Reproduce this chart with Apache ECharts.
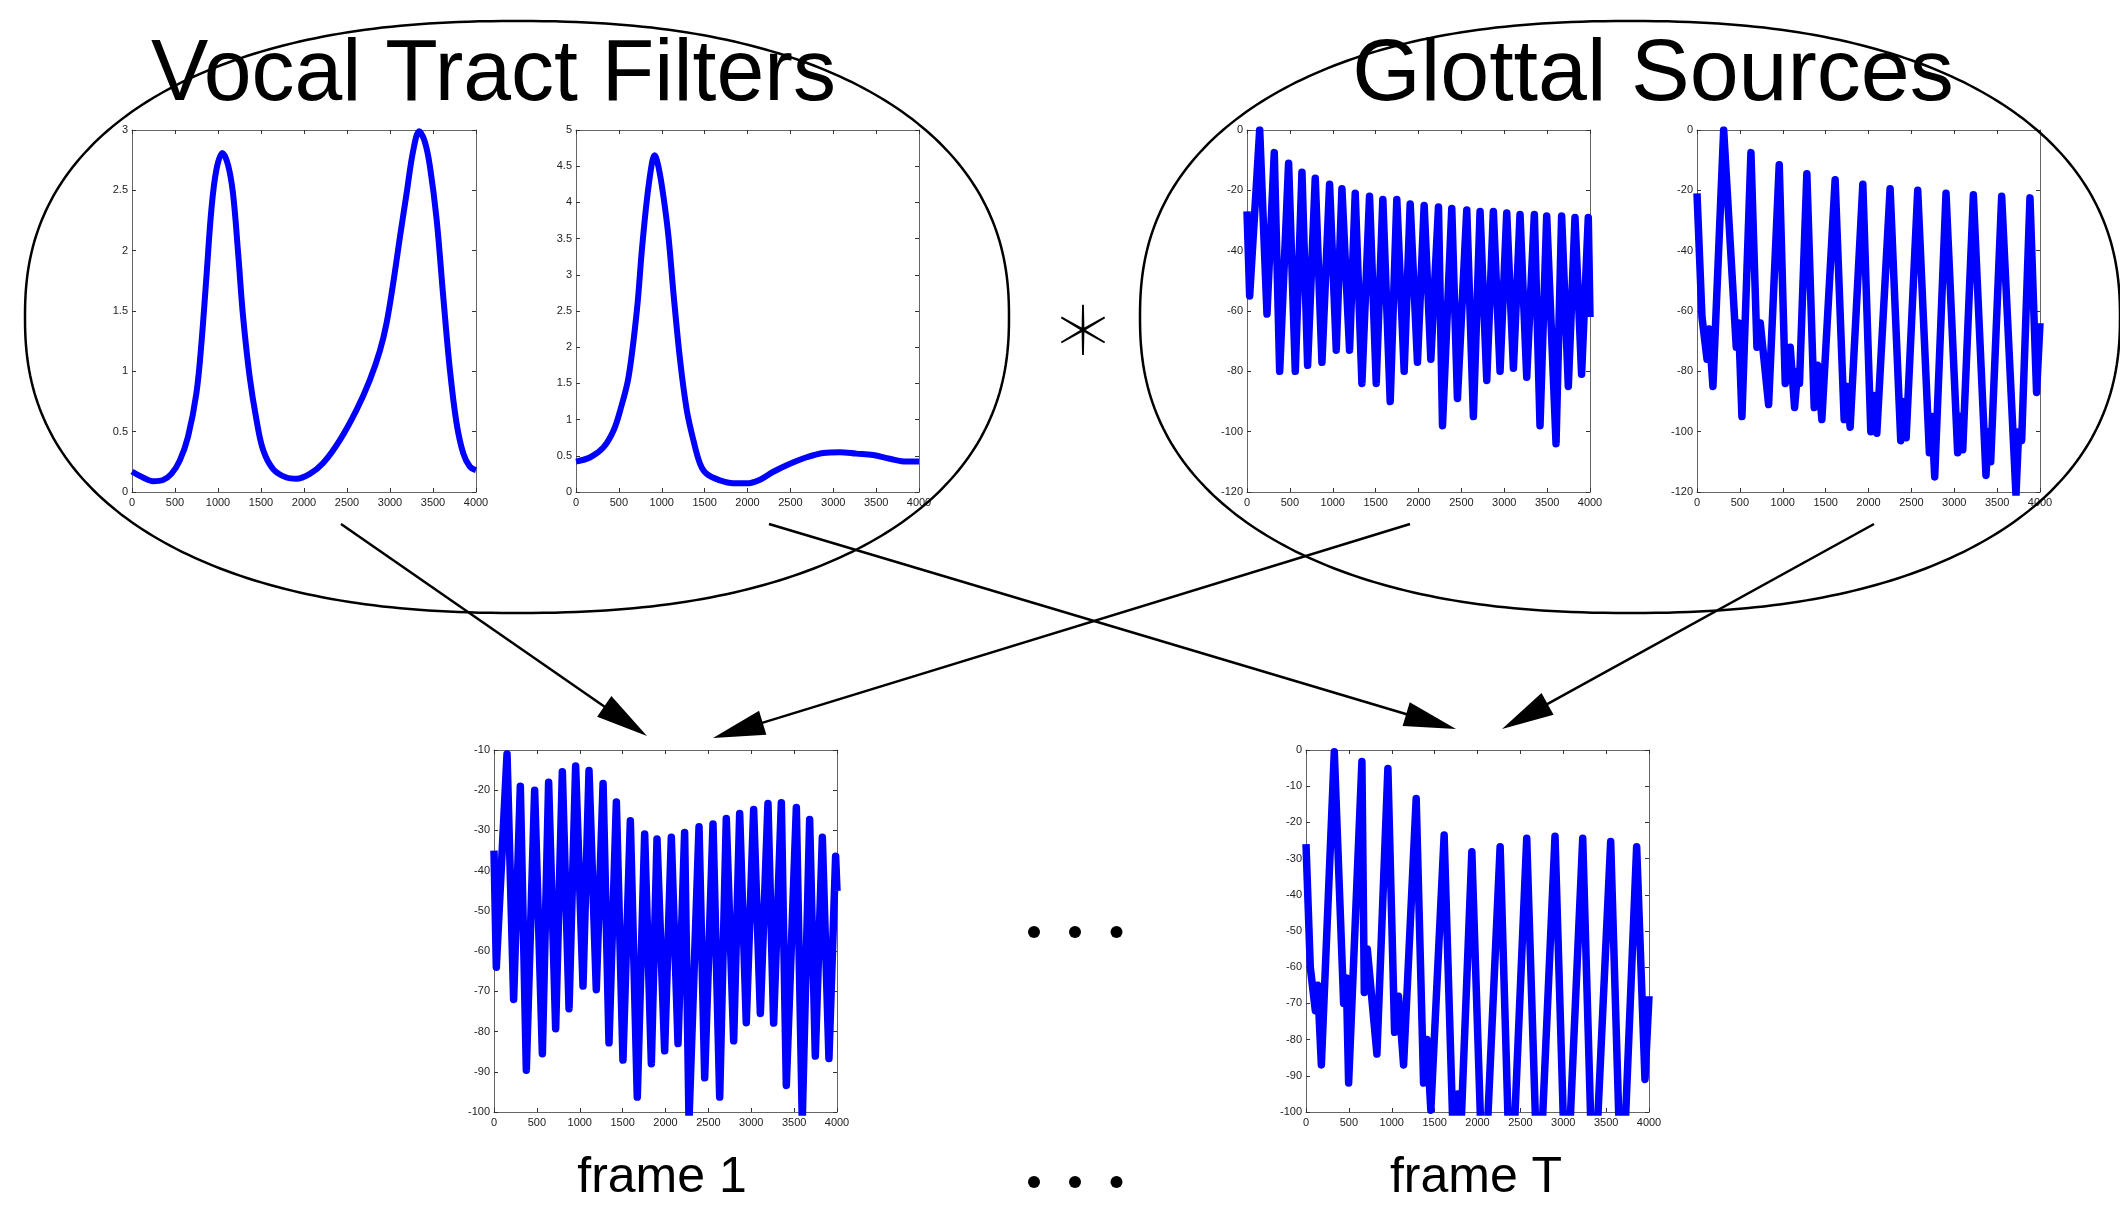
<!DOCTYPE html>
<html><head><meta charset="utf-8">
<script src="https://cdn.jsdelivr.net/npm/echarts@6/dist/echarts.min.js"></script>
<style>html,body{margin:0;padding:0;background:#fff;} #c{width:2120px;height:1206px;}</style>
</head><body><div id="c"></div>
<script>
// ---------- data ----------
const freqTicks = [0, 500, 1000, 1500, 2000, 2500, 3000, 3500, 4000];

// Vocal tract filter 1 (linear gain)
const vtf1Freq = [0,128,244,361,458,555,652,749,807,865,923,981,1051,1117,1175,1234,1292,1369,1447,1524,1641,1796,1912,2067,2223,2417,2611,2766,2882,2960,3037,3115,3192,3270,3340,3406,3464,3542,3619,3697,3774,3852,3929,4000];
const vtf1Gain = [0.17,0.12,0.09,0.10,0.15,0.26,0.46,0.82,1.23,1.78,2.34,2.67,2.81,2.71,2.47,1.98,1.45,0.95,0.60,0.35,0.19,0.12,0.11,0.15,0.24,0.43,0.68,0.93,1.17,1.40,1.73,2.11,2.47,2.83,2.99,2.90,2.70,2.26,1.62,1.01,0.57,0.32,0.21,0.18];

// Vocal tract filter 2
const vtf2Freq = [0,167,322,438,516,613,710,768,826,885,916,962,1020,1079,1137,1214,1292,1370,1447,1525,1680,1835,1990,2146,2301,2495,2689,2883,3077,3271,3465,3659,3853,4000];
const vtf2Gain = [0.42,0.48,0.62,0.85,1.13,1.59,2.51,3.34,4.03,4.54,4.65,4.49,4.08,3.52,2.74,1.82,1.13,0.71,0.39,0.25,0.16,0.12,0.12,0.17,0.28,0.39,0.48,0.54,0.55,0.53,0.51,0.46,0.42,0.42];

// Glottal source 1 (dB)
const gs1Freq = [0,31,148,233,318,381,485,563,641,707,796,874,963,1041,1107,1196,1262,1340,1429,1507,1584,1670,1747,1833,1903,1988,2066,2144,2233,2280,2388,2454,2563,2640,2718,2796,2873,2951,3029,3107,3184,3262,3351,3417,3495,3604,3669,3747,3825,3902,3980,4000];
const gs1Level = [-27,-55,0,-61,-7.5,-80,-11,-80,-14,-78,-16,-77,-18,-73,-19.5,-73,-21,-84,-22,-84,-23,-90,-23,-80,-24.5,-77,-25,-76,-25.5,-98,-26,-89,-26.5,-95,-27,-83,-27,-80,-27.5,-79,-28,-82,-28,-98,-28.5,-104,-28.5,-85,-29,-81,-29,-62];

// Glottal source 2 (dB)
const gs2Freq = [0,58,117,140,186,311,458,485,524,629,699,738,835,959,1029,1087,1138,1173,1195,1281,1367,1406,1456,1611,1716,1747,1786,1934,2027,2058,2097,2252,2376,2399,2439,2574,2710,2738,2772,2904,3040,3068,3099,3223,3370,3398,3425,3553,3720,3751,3786,3883,3960,4000];
const gs2Level = [-21,-62,-76,-66,-85,0,-72,-64,-95,-7.5,-72,-64,-91,-11.5,-84,-72,-92,-80,-84,-14.5,-92,-78,-96,-16.5,-96,-85,-98.5,-18,-100,-88,-100.5,-19.5,-103,-90,-102,-20,-107,-95,-115,-21,-107,-95,-106,-21.5,-114.5,-100,-110,-22,-121,-100,-103,-22.5,-87,-64];

// Frame 1 (dB)
const f1Freq = [0,27,152,229,307,377,474,564,637,719,797,875,952,1038,1108,1193,1272,1341,1427,1504,1590,1671,1757,1835,1901,1990,2068,2146,2223,2274,2391,2457,2554,2632,2709,2795,2865,2942,3028,3106,3195,3261,3351,3409,3526,3595,3681,3747,3829,3906,3984,4000];
const f1Level = [-35,-64,-11,-72,-19,-89.6,-20,-85.5,-18,-79.3,-15.4,-74.3,-14,-68.7,-15.1,-69.6,-18.3,-82.8,-22.9,-87.1,-27.6,-96.3,-30.9,-88,-32.1,-84.8,-31.7,-83,-30.5,-102,-29.1,-91.5,-28.4,-96.3,-27,-82.3,-25.8,-77.8,-24.8,-75.5,-23.3,-77.9,-23.1,-93.4,-24.3,-102,-27.3,-86.1,-31.7,-86.7,-36.4,-45];

// Frame T (dB)
const fTFreq = [0,50,109,136,179,330,439,470,497,652,680,715,827,955,1033,1079,1138,1285,1371,1410,1456,1611,1720,1767,1798,1934,2070,2264,2388,2574,2710,2904,3033,3227,3351,3553,3681,3856,3953,4000];
const fTLevel = [-26,-60,-72,-65,-87,-0.5,-70,-63,-92,-3.2,-67,-55,-84,-5.1,-78,-68,-87,-13.4,-92,-80,-99.5,-23.5,-110,-95,-110,-28.1,-128,-26.7,-128,-24.4,-128,-23.8,-128,-24.4,-128,-25.3,-128,-26.7,-91,-68];

const titles = ['Vocal Tract Filters', 'Glottal Sources'];
const frameLabels = ['frame 1', 'frame T'];
const operatorSymbol = '\uFF0A';

// ---------- layout ----------
const panels = [
  {left:132, top:130, w:344, h:362, ymin:0,    ymax:3,   yint:0.5, x:vtf1Freq, y:vtf1Gain, smooth:0.35, lw:6},
  {left:576, top:130, w:343, h:362, ymin:0,    ymax:5,   yint:0.5, x:vtf2Freq, y:vtf2Gain, smooth:0.35, lw:6},
  {left:1247,top:130, w:343, h:362, ymin:-120, ymax:0,   yint:20,  x:gs1Freq,  y:gs1Level, smooth:false, lw:7.5},
  {left:1697,top:130, w:343, h:362, ymin:-120, ymax:0,   yint:20,  x:gs2Freq,  y:gs2Level, smooth:false, lw:7.5},
  {left:494, top:750, w:343, h:362, ymin:-100, ymax:-10, yint:10,  x:f1Freq,   y:f1Level,  smooth:false, lw:7.5},
  {left:1306,top:750, w:343, h:362, ymin:-100, ymax:0,   yint:10,  x:fTFreq,   y:fTLevel,  smooth:false, lw:7.5}
];

const labelFont = "'Liberation Sans Narrow','Liberation Sans',Arial,sans-serif";
const frameColor = '#666';
const plainNum = v => String(v);
const grids = [], xAxes = [], yAxes = [], series = [];
panels.forEach((p, i) => {
  grids.push({left:p.left, top:p.top, width:p.w, height:p.h, containLabel:false, show:false});
  const xmin = freqTicks[0], xmax = freqTicks[freqTicks.length-1], xint = freqTicks[1]-freqTicks[0];
  const common = {
    type:'value', gridIndex:i, splitLine:{show:false},
    axisLine:{show:true, onZero:false, lineStyle:{color:frameColor, width:1}},
    axisTick:{show:true, inside:true, length:4, lineStyle:{color:'#333', width:1}}
  };
  xAxes.push(Object.assign({}, common, {position:'bottom', min:xmin, max:xmax, interval:xint,
    axisLabel:{show:true, fontSize:11, color:'#222', margin:5, fontFamily:labelFont, formatter:plainNum}}));
  xAxes.push(Object.assign({}, common, {position:'top', min:xmin, max:xmax, interval:xint, axisLabel:{show:false}}));
  yAxes.push(Object.assign({}, common, {position:'left', min:p.ymin, max:p.ymax, interval:p.yint,
    axisLabel:{show:true, fontSize:11, color:'#222', margin:4, fontFamily:labelFont, formatter:plainNum}}));
  yAxes.push(Object.assign({}, common, {position:'right', min:p.ymin, max:p.ymax, interval:p.yint, axisLabel:{show:false}}));
  series.push({
    type:'line', xAxisIndex:2*i, yAxisIndex:2*i,
    data:p.x.map((v, k) => [v, p.y[k]]),
    showSymbol:false, symbol:'none', smooth:p.smooth, clip:true, silent:true,
    lineStyle:{color:'#0000ff', width:p.lw, join:'round', cap:'butt'},
    z:3
  });
});

// ---------- decorations ----------
function superEllipse(cx, cy, rx, ry, n) {
  const pts = [];
  for (let k = 0; k < 360; k++) {
    const t = k / 360 * Math.PI * 2;
    const c = Math.cos(t), s = Math.sin(t);
    pts.push([cx + rx * Math.sign(c) * Math.pow(Math.abs(c), 2/n),
              cy + ry * Math.sign(s) * Math.pow(Math.abs(s), 2/n)]);
  }
  return {type:'polygon', z:10, silent:true, shape:{points:pts}, style:{fill:null, stroke:'#000', lineWidth:2.5}};
}
function arrow(x1, y1, x2, y2) {
  const L = 52, W = 12.5;
  const dx = x2 - x1, dy = y2 - y1, len = Math.hypot(dx, dy);
  const ux = dx/len, uy = dy/len, nx = -uy, ny = ux;
  const bx = x2 - ux*L, by = y2 - uy*L;
  return [
    {type:'line', z:11, silent:true, shape:{x1:x1, y1:y1, x2:bx + ux*4, y2:by + uy*4}, style:{stroke:'#000', lineWidth:2.5}},
    {type:'polygon', z:11, silent:true, shape:{points:[[x2,y2],[bx+nx*W, by+ny*W],[bx-nx*W, by-ny*W]]}, style:{fill:'#000'}}
  ];
}
function txt(str, x, y, font, sx) {
  return {type:'text', x:x, y:y, scaleX:sx || 1, z:12, silent:true,
    style:{text:str, font:font, fill:'#000',
      textAlign:'center', align:'center', textVerticalAlign:'middle', verticalAlign:'middle'}};
}
const titleFont = "'Liberation Sans',Arial,Helvetica,sans-serif";
const graphic = [
  superEllipse(517, 317, 492, 296, 2.3),
  superEllipse(1630, 317, 490, 296, 2.3),
  ...arrow(341, 524, 647, 736),
  ...arrow(769, 524, 1456, 729),
  ...arrow(1410, 524, 713, 738),
  ...arrow(1874, 524, 1502, 729),
  txt(titles[0], 493.5, 76, '88px ' + titleFont, 0.977),
  txt(titles[1], 1653, 76, '88px ' + titleFont, 1.0),
  txt(operatorSymbol, 1083, 330, "100 66px 'Noto Sans CJK JP'"),
  txt(frameLabels[0], 662, 1178, '50px ' + titleFont),
  txt(frameLabels[1], 1476, 1178, '50px ' + titleFont)
];
[[1034,932],[1075,932],[1116.5,932],[1034,1182],[1075,1182],[1116.5,1182]].forEach(c => {
  graphic.push({type:'circle', z:12, silent:true, shape:{cx:c[0], cy:c[1], r:6}, style:{fill:'#000'}});
});

const chart = echarts.init(document.getElementById('c'), null, {renderer:'canvas'});
chart.setOption({
  animation:false,
  backgroundColor:'#ffffff',
  grid:grids, xAxis:xAxes, yAxis:yAxes, series:series,
  graphic:graphic
});
</script></body></html>
